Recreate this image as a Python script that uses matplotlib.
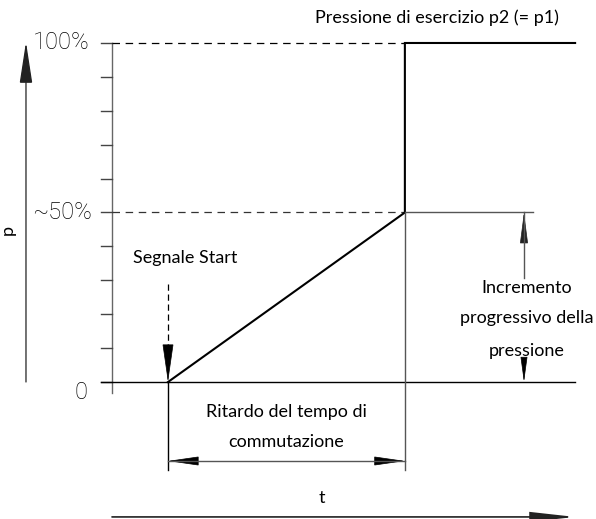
"""Pressure build-up over time for a soft-start valve (diagram)."""

import matplotlib
matplotlib.use("Agg")
import matplotlib.pyplot as plt
from matplotlib.patches import FancyArrowPatch

# time axis (arbitrary units) and pressure in percent
t_start = 1.0          # start signal
t_switch = 5.23        # switch-over point
t_end = 8.27           # end of the drawn curve
p_switch = 50          # ~50 % pressure at switch-over
p_full = 100           # working pressure p2 (= p1)

curve_t = [t_start, t_switch, t_switch, t_end]
curve_p = [0, p_switch, p_full, p_full]

tick_values = [0, 10, 20, 30, 40, 50, 60, 70, 80, 90, 100]
tick_labels = {100: "100%", 50: "~50%", 0: "0"}

text_font = ["Lato", "DejaVu Sans"]
num_font = ["Roboto", "DejaVu Sans"]
thin = "#555555"


def arrow(ax, start, end, length, width, color="black", lw=1.0):
    """Straight arrow with a filled head, head sizes in points."""
    style = "-|>,head_length=%g,head_width=%g" % (length, width)
    patch = FancyArrowPatch(start, end, arrowstyle=style, mutation_scale=1,
                            shrinkA=0, shrinkB=0, color=color, lw=lw,
                            joinstyle="miter")
    ax.add_patch(patch)


fig = plt.figure(figsize=(5.96, 5.19), dpi=100)
ax = fig.add_axes([0, 0, 1, 1])
ax.set_xlim(-2.0, 8.643)
ax.set_ylim(-40.41, 112.68)
ax.axis("off")

# pressure scale with ticks
ax.plot([0, 0], [-3.2, p_full], color="#666666", lw=1.0)
for val in tick_values:
    ax.plot([-0.196, 0], [val, val], color="#444444", lw=1.0)
ax.plot([-0.196, t_end], [0, 0], color="black", lw=1.0)

# dashed reference levels
ax.plot([0, t_switch], [p_full, p_full], color="black", lw=0.9,
        dashes=(6, 4.5))
ax.plot([0, t_switch], [p_switch, p_switch], color="#333333", lw=0.9,
        dashes=(6, 4.5))
ax.plot([t_switch, 7.52], [p_switch, p_switch], color=thin, lw=1.0)

# pressure curve
ax.plot(curve_t, curve_p, color="black", lw=1.5, solid_joinstyle="miter")

# tick labels
for val, lab in tick_labels.items():
    y = val if val else -3.2
    x = -0.393 if val == 100 else (-0.357 if val == 50 else -0.43)
    ax.text(x, y, lab, ha="right", va="center", fontsize=17,
            family=num_font, fontweight="light", color="black")

# axis arrows
arrow(ax, (-1.536, 0), (-1.536, 100.3), 26, 4, color="#222222", lw=0.9)
ax.text(-1.857, 44.8, "p", rotation=90, ha="center", va="center",
        fontsize=13, family=text_font)
arrow(ax, (0, -39.8), (t_end, -39.8), 27, 3, color="#222222", lw=1.2)
ax.text(3.75, -34.2, "t", ha="center", va="center", fontsize=13,
        family=text_font)

# start signal: dashed stem, solid head
ax.text(0.375, 36.6, "Segnale Start", ha="left", va="center", fontsize=13,
        family=text_font)
ax.plot([t_start, t_start], [28.9, 8], color="black", lw=0.9,
        dashes=(5, 3))
arrow(ax, (t_start, 11), (t_start, 0), 25, 3.6, lw=0.5)

# switching delay dimension
ax.plot([t_start, t_start], [0, -26], color="black", lw=1.0)
ax.plot([t_switch, t_switch], [p_switch, -26], color=thin, lw=1.0)
mid = (t_start + t_switch) / 2
ax.plot([t_start, t_switch], [-23.3, -23.3], color=thin, lw=1.0)
arrow(ax, (t_start + 0.5, -23.3), (t_start, -23.3), 20, 2.9, lw=0.5)
arrow(ax, (t_switch - 0.5, -23.3), (t_switch, -23.3), 20, 2.9, lw=0.5)
ax.text(mid, -8.85, "Ritardo del tempo di", ha="center", va="center",
        fontsize=13, family=text_font)
ax.text(mid, -17.7, "commutazione", ha="center", va="center", fontsize=13,
        family=text_font)

# progressive pressure increase dimension
x_dim = 7.357
ax.plot([x_dim, x_dim], [30.7, p_switch], color=thin, lw=1.0)
arrow(ax, (x_dim, 42), (x_dim, p_switch), 20, 2.6, color="#222222", lw=0.5)
arrow(ax, (x_dim, 6.5), (x_dim, 0), 16, 2.2, color="black", lw=0.5)
ax.text(7.41, 27.7, "Incremento", ha="center", va="center", fontsize=13,
        family=text_font)
ax.text(7.41, 18.9, "progressivo della", ha="center", va="center",
        fontsize=13, family=text_font)
ax.text(7.41, 9.1, "pressione", ha="center", va="center", fontsize=13,
        family=text_font)

ax.text(5.80, 107.4, "Pressione di esercizio p2 (= p1)", ha="center",
        va="center", fontsize=13, family=text_font)

fig.savefig("out.png", dpi=100)
